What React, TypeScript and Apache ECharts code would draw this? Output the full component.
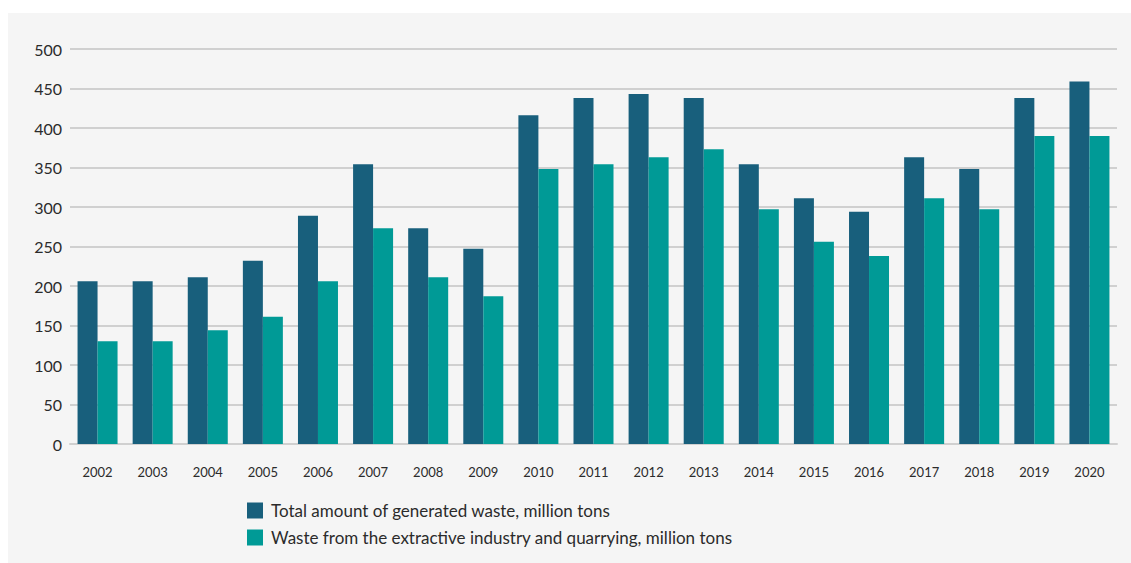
import React, { useEffect, useRef } from "react";
import * as echarts from "echarts";

const years = ["2002","2003","2004","2005","2006","2007","2008","2009","2010","2011","2012","2013","2014","2015","2016","2017","2018","2019","2020"];
const totalWaste = [206,206,211,232,289,354,273,247,416,438,443,438,354,311,294,363,348,438,459];
const extractiveWaste = [130,130,144,161,206,273,211,187,348,354,363,373,297,256,238,311,297,390,390];
const seriesNames = [
  "Total amount of generated waste, million tons",
  "Waste from the extractive industry and quarrying, million tons",
];
const yTicks = { min: 0, max: 500, interval: 50 };

const FONT = "Lato, 'Noto Sans', sans-serif";

export default function App() {
  const ref = useRef<HTMLDivElement>(null);
  useEffect(() => {
    const chart = echarts.init(ref.current!, null, { renderer: "svg" });
    chart.setOption({
      animation: false,
      backgroundColor: "#f5f5f5",
      textStyle: { fontFamily: FONT },
      grid: { left: 62, right: 14, top: 36, bottom: 119, containLabel: false },
      legend: {
        orient: "vertical",
        left: 239,
        top: 489,
        padding: 0,
        itemWidth: 16,
        itemHeight: 16,
        itemGap: 10,
        icon: "rect",
        textStyle: { fontFamily: FONT, fontSize: 17, color: "#2b2b2b", padding: [0, 0, 0, 3] },
        data: seriesNames,
      },
      xAxis: {
        type: "category",
        data: years,
        axisTick: { show: false },
        axisLine: { show: true, lineStyle: { color: "#d0d0d0", width: 2 } },
        axisLabel: { color: "#2b2b2b", fontSize: 13, margin: 21, fontFamily: FONT },
      },
      yAxis: {
        type: "value",
        min: yTicks.min,
        max: yTicks.max,
        interval: yTicks.interval,
        axisLine: { show: false },
        axisTick: { show: false },
        axisLabel: { color: "#2b2b2b", fontSize: 16, margin: 8, fontFamily: FONT },
        splitLine: { lineStyle: { color: "#d0d0d0", width: 2 } },
      },
      series: [
        {
          name: seriesNames[0],
          type: "bar",
          data: totalWaste,
          barWidth: 20,
          barGap: "0%",
          itemStyle: { color: "#185f7c" },
        },
        {
          name: seriesNames[1],
          type: "bar",
          data: extractiveWaste,
          barWidth: 20,
          barGap: "0%",
          itemStyle: { color: "#009a96" },
        },
      ],
    });
    return () => chart.dispose();
  }, []);
  return (
    <div
      ref={ref}
      style={{ width: 1123, height: 550, position: "fixed", left: 8, top: 13 }}
    />
  );
}
